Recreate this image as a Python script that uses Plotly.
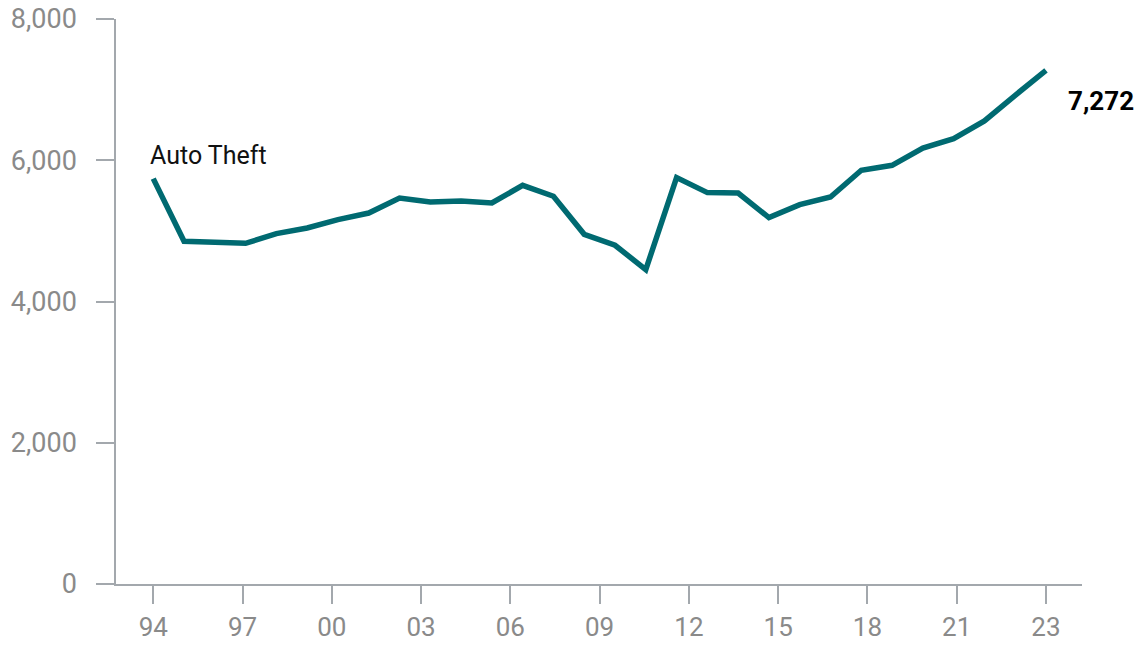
import numpy as np
import plotly.graph_objects as go

# Auto theft counts by year
years = list(range(1994, 2024))
auto_theft = [
    5740, 4853, 4838, 4824, 4961, 5041, 5160, 5253, 5466, 5409,
    5423, 5395, 5645, 5490, 4951, 4796, 4452, 5754, 5542, 5536,
    5188, 5372, 5480, 5858, 5928, 6173, 6306, 6556, 6920, 7272,
]

# Axis ticks
x_tick_labels = ["94", "97", "00", "03", "06", "09", "12", "15", "18", "21", "23"]
y_tick_values = [0, 2000, 4000, 6000, 8000]

series_name = "Auto Theft"

LINE_COLOR = "#006a71"
AXIS_COLOR = "#a3a8ad"
TICK_FONT_COLOR = "#8a8a8a"
FONT = "Roboto, 'Open Sans', sans-serif"

x_tick_positions = np.linspace(years[0], years[-1], len(x_tick_labels))

fig = go.Figure()
fig.add_trace(
    go.Scatter(
        x=years,
        y=auto_theft,
        mode="lines",
        line=dict(color=LINE_COLOR, width=5.5),
        hoverinfo="x+y",
        showlegend=False,
    )
)

# Series label near the first point
fig.add_annotation(
    x=years[0], y=auto_theft[0],
    text=series_name,
    showarrow=False,
    xanchor="left", yanchor="bottom",
    xshift=-5, yshift=7,
    font=dict(family=FONT, size=25, color="#111111"),
)

# Latest value label at the end of the line
fig.add_annotation(
    x=years[-1], y=6840,
    text=f"<b>{auto_theft[-1]:,}</b>",
    showarrow=False,
    xanchor="left", yanchor="middle",
    xshift=20,
    font=dict(family=FONT, size=26, color="#000000"),
)

fig.update_layout(
    width=1142,
    height=645,
    margin=dict(l=116, r=60, t=19, b=61),
    paper_bgcolor="white",
    plot_bgcolor="white",
    font=dict(family=FONT),
)

fig.update_xaxes(
    range=[1992.79, 2024.17],
    tickmode="array",
    tickvals=x_tick_positions,
    ticktext=x_tick_labels,
    ticks="outside",
    ticklen=18,
    tickwidth=1.5,
    tickcolor=AXIS_COLOR,
    showline=True,
    linecolor=AXIS_COLOR,
    linewidth=1.5,
    showgrid=False,
    zeroline=False,
    automargin=False,
    tickfont=dict(family=FONT, size=26, color=TICK_FONT_COLOR),
    ticklabelstandoff=1,
)

fig.update_yaxes(
    range=[0, 8000],
    tickmode="array",
    tickvals=y_tick_values,
    tickformat=",",
    ticks="outside",
    ticklen=18,
    tickwidth=1.5,
    tickcolor=AXIS_COLOR,
    showline=True,
    linecolor=AXIS_COLOR,
    linewidth=1.5,
    showgrid=False,
    zeroline=False,
    automargin=False,
    tickfont=dict(family=FONT, size=27, color=TICK_FONT_COLOR),
    ticklabelstandoff=14,
)

fig.write_html("out.html")
